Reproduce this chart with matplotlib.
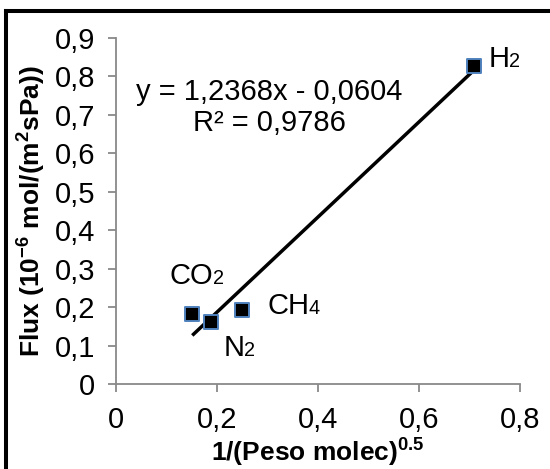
import matplotlib
matplotlib.use("Agg")
import matplotlib.pyplot as plt
from matplotlib.lines import Line2D
import numpy as np

plt.rcParams['font.family'] = ['Liberation Sans', 'DejaVu Sans']
plt.rcParams['mathtext.fontset'] = 'custom'
plt.rcParams['mathtext.rm'] = 'Liberation Sans'
plt.rcParams['mathtext.it'] = 'Liberation Sans'
plt.rcParams['mathtext.bf'] = 'Liberation Sans:bold'

# Gas data: inverse square root of molecular weight vs. measured flux
gas_names = ["H", "CH", "N", "CO"]
gas_subs = ["2", "4", "2", "2"]
inv_sqrt_mw = [0.708, 0.250, 0.189, 0.151]
flux = [0.826, 0.193, 0.161, 0.183]

# Linear trend line reported on the chart
slope = 1.2368
intercept = -0.0604
r2 = 0.9786

x_ticks = [0, 0.2, 0.4, 0.6, 0.8]
y_ticks = [0, 0.1, 0.2, 0.3, 0.4, 0.5, 0.6, 0.7, 0.8, 0.9]

def comma(v):
    s = f"{v:g}"
    return s.replace(".", ",")

FS = 21
DPI = 100

W, H = 550, 469
fig = plt.figure(figsize=(W / DPI, H / DPI), dpi=DPI)
ax = fig.add_axes([116 / W, (H - 384) / H, (520 - 116) / W, (384 - 38) / H])

# trend line across the data range
xf = np.array([min(inv_sqrt_mw), max(inv_sqrt_mw)])
ax.plot(xf, slope * xf + intercept, color='black', lw=2.5, zorder=2,
        solid_capstyle='butt')

ax.scatter(inv_sqrt_mw, flux, marker='s', s=100, facecolor='black',
           edgecolor='#4F81BD', linewidth=1.4, zorder=3)

# gas labels: formula with a small digit sitting on the baseline
renderer = fig.canvas.get_renderer()
offsets = [(11, -0.5), (18, -3), (8.6, -24.7), (-16.5, 21.6)]
for name, sub, x, y, (dx, dy) in zip(gas_names, gas_subs, inv_sqrt_mw, flux,
                                     offsets):
    t = ax.annotate(name, (x, y), xytext=(dx, dy), textcoords='offset points',
                    ha='left', va='baseline', fontsize=FS)
    w_pt = t.get_window_extent(renderer).width * 72 / DPI
    ax.annotate(sub, (x, y), xytext=(dx + w_pt - 0.3, dy),
                textcoords='offset points', ha='left', va='baseline',
                fontsize=FS * 0.68)

ax.text(0.303, 0.759, f"y = {comma(slope)}x - {comma(abs(intercept))}",
        ha='center', va='center', fontsize=FS)
ax.text(0.303, 0.678, f"R² = {comma(r2)}", ha='center', va='center',
        fontsize=FS)

ax.set_xlim(0, 0.8)
ax.set_ylim(0, 0.9)
ax.set_xticks(x_ticks)
ax.set_yticks(y_ticks)
ax.set_xticklabels([comma(v) for v in x_ticks], fontsize=FS)
ax.set_yticklabels([comma(v) for v in y_ticks], fontsize=FS)

for side in ('top', 'right'):
    ax.spines[side].set_visible(False)
for side in ('left', 'bottom'):
    ax.spines[side].set_color('#898989')
    ax.spines[side].set_linewidth(1.3)
ax.tick_params(axis='both', colors='#898989', length=6, width=1.3,
               labelcolor='black')
ax.tick_params(axis='x', pad=10)
ax.tick_params(axis='y', pad=9)

fig.text(318 / W, 1 - 453 / H, "1/(Peso molec)$^{\\mathbf{0.5}}$",
         fontsize=19, fontweight='bold', ha='center', va='center')
fig.text(32 / W, 1 - 211 / H,
         "Flux (10$^{\\mathbf{-6}}$ mol/(m$^{\\mathbf{2}}$sPa))", fontsize=19,
         fontweight='bold', ha='center', va='center', rotation=90)

# heavy frame around the figure
fx = 6 / W
fy = (H - 11) / H
fig.add_artist(Line2D([fx, fx], [-0.02, fy], transform=fig.transFigure,
                      color='black', lw=2.9, solid_capstyle='projecting'))
fig.add_artist(Line2D([fx, 1.02], [fy, fy], transform=fig.transFigure,
                      color='black', lw=2.9, solid_capstyle='projecting'))

fig.savefig("out.png", dpi=DPI)
